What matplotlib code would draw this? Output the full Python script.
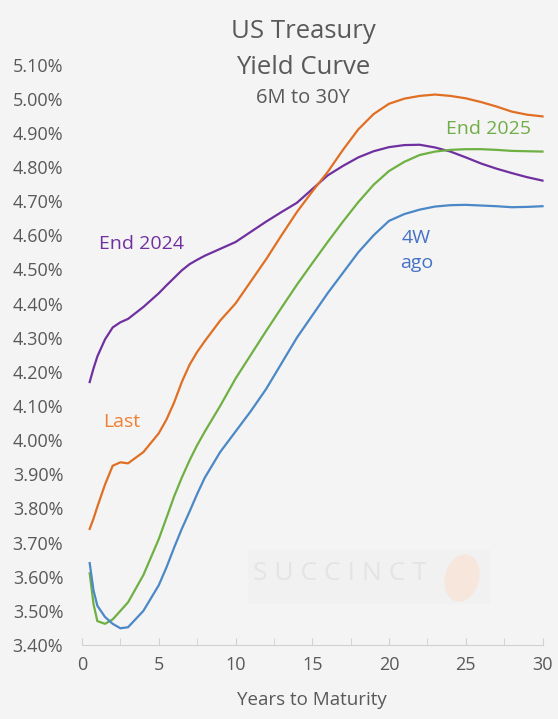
import matplotlib.pyplot as plt
from matplotlib.patches import Ellipse, Rectangle

plt.rcParams['font.family'] = ['Open Sans', 'DejaVu Sans']

years = [0.5, 0.75, 1, 1.5, 2, 2.5, 3, 4, 5, 5.5, 6, 6.5, 7, 7.5, 8, 9, 10, 11, 12, 13, 14,
         15, 16, 17, 18, 19, 20, 21, 22, 23, 24, 25, 26, 27, 28, 29, 30]

end_2024 = [4.17, 4.21, 4.245, 4.295, 4.33, 4.345, 4.355, 4.39, 4.43, 4.453, 4.475, 4.497, 4.515,
            4.528, 4.54, 4.56, 4.58, 4.61, 4.64, 4.668, 4.695, 4.735, 4.775, 4.803, 4.828, 4.846,
            4.858, 4.864, 4.865, 4.857, 4.845, 4.828, 4.81, 4.795, 4.782, 4.77, 4.76]
last = [3.74, 3.77, 3.805, 3.87, 3.925, 3.935, 3.932, 3.965, 4.02, 4.06, 4.11, 4.17, 4.22, 4.258,
        4.29, 4.35, 4.40, 4.465, 4.53, 4.60, 4.668, 4.728, 4.785, 4.85, 4.91, 4.955, 4.985, 5.0,
        5.008, 5.012, 5.008, 5.001, 4.99, 4.977, 4.962, 4.953, 4.948]
end_2025 = [3.61, 3.52, 3.47, 3.462, 3.475, 3.50, 3.525, 3.605, 3.71, 3.772, 3.835, 3.89, 3.94,
            3.985, 4.025, 4.10, 4.18, 4.25, 4.32, 4.388, 4.455, 4.518, 4.58, 4.64, 4.697, 4.748,
            4.788, 4.815, 4.835, 4.845, 4.85, 4.852, 4.852, 4.85, 4.847, 4.846, 4.845]
ago_4w = [3.64, 3.56, 3.515, 3.482, 3.462, 3.449, 3.452, 3.50, 3.575, 3.627, 3.685, 3.74, 3.79,
          3.842, 3.89, 3.965, 4.025, 4.085, 4.15, 4.225, 4.30, 4.365, 4.43, 4.49, 4.55, 4.60,
          4.642, 4.662, 4.675, 4.684, 4.688, 4.689, 4.687, 4.685, 4.682, 4.683, 4.685]

y_ticks = [3.4 + 0.1 * i for i in range(18)]

bg = '#f4f4f4'
fig = plt.figure(figsize=(5.58, 7.19), dpi=100, facecolor=bg)
ax = fig.add_axes([82 / 558, 1 - 645 / 719, 460.5 / 558, 580.5 / 719], facecolor=bg)

# watermark
ax.add_patch(Rectangle((248, 719 - 604), 242, 54, transform=None, facecolor='#f1f1f1',
                       edgecolor='none', zorder=0))
fig.text(340 / 558, 1 - 574 / 719, 'S U C C I N C T', color='#e4e4e4', fontsize=19,
         ha='center', va='center', zorder=0)
ax.add_patch(Ellipse((462, 719 - 578), 34, 48, angle=-15, transform=None,
                     facecolor='#f6e6dc', edgecolor='none', zorder=0))

kw = dict(lw=1.6, clip_on=False, solid_joinstyle='round')
ax.plot(years, end_2024, color='#7030a0', **kw)
ax.plot(years, last, color='#e06f24', **kw)
ax.plot(years, end_2025, color='#6fb043', **kw)
ax.plot(years, ago_4w, color='#4a88c7', **kw)

ax.text(3.9, 4.575, 'End 2024', color='#7030a0', fontsize=14, ha='center', va='center')
ax.text(2.6, 4.052, 'Last', color='#f07f30', fontsize=14, ha='center', va='center')
ax.text(26.5, 4.91, 'End 2025', color='#70ad47', fontsize=14, ha='center', va='center')
ax.text(21.8, 4.555, '4W\nago', color='#4472c4', fontsize=14, ha='center', va='center',
        linespacing=1.45)

ax.set_xlim(0, 30)
ax.set_ylim(3.4, 5.1)
ax.set_yticks(y_ticks)
ax.set_yticklabels([f'{v:.2f}%' for v in y_ticks])
ax.set_xticks([0, 5, 10, 15, 20, 25, 30])
ax.set_xticks([2.5, 7.5, 12.5, 17.5, 22.5, 27.5], minor=True)

for s in ['top', 'right', 'left']:
    ax.spines[s].set_visible(False)
ax.spines['bottom'].set_color('#d0d0d0')
ax.tick_params(axis='y', length=0, pad=13.5, labelsize=13, labelcolor='#595959')
ax.tick_params(axis='x', which='both', direction='in', length=5, color='#d0d0d0',
               pad=8, labelsize=13, labelcolor='#595959')
ax.set_xlabel('Years to Maturity', fontsize=13.5, color='#595959', labelpad=12)

fig.text(303 / 558, 1 - 31 / 719, 'US Treasury', fontsize=18.5, color='#595959',
         ha='center', va='center')
fig.text(303 / 558, 1 - 67 / 719, 'Yield Curve', fontsize=18.5, color='#595959',
         ha='center', va='center')
fig.text(303 / 558, 1 - 98 / 719, '6M to 30Y', fontsize=14.5, color='#595959',
         ha='center', va='center')

fig.savefig('out.png', dpi=100, facecolor=bg)
